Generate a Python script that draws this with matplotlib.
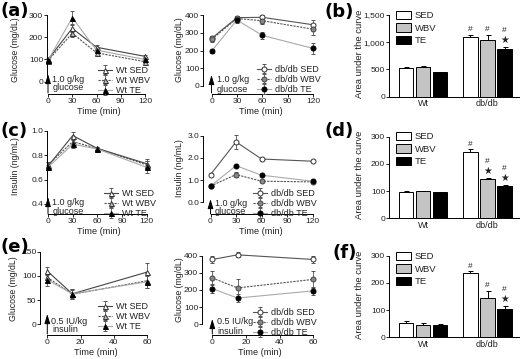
import matplotlib
matplotlib.use("Agg")
import matplotlib.pyplot as plt
import numpy as np

plt.rcParams['font.family'] = ['Liberation Sans', 'DejaVu Sans']
plt.rcParams['font.size'] = 6.0
plt.rcParams['axes.linewidth'] = 0.7
plt.rcParams['xtick.major.width'] = 0.7
plt.rcParams['ytick.major.width'] = 0.7
plt.rcParams['xtick.major.size'] = 2.0
plt.rcParams['ytick.major.size'] = 2.0
plt.rcParams['xtick.major.pad'] = 1.2
plt.rcParams['ytick.major.pad'] = 0.8
TXT = '#222222'
plt.rcParams['text.color'] = TXT
plt.rcParams['xtick.color'] = TXT
plt.rcParams['ytick.color'] = TXT
plt.rcParams['axes.labelcolor'] = TXT

# ---------------- data ----------------
ogtt_time = [0, 30, 60, 120]
itt_time = [0, 15, 60]
groups = ['SED', 'WBV', 'TE']
bar_cats = ['Wt', 'db/db']

# (a) glucose OGTT
a_wt_sed = [100, 240, 155, 114]
a_wt_wbv = [95, 218, 130, 90]
a_wt_te = [96, 288, 142, 100]
a_wt_sed_err = [6, 15, 8, 8]
a_wt_wbv_err = [6, 15, 8, 8]
a_wt_te_err = [6, 30, 10, 10]
a_db_sed = [268, 385, 387, 345]
a_db_wbv = [262, 380, 368, 320]
a_db_te = [196, 372, 285, 212]
a_db_sed_err = [15, 12, 15, 25]
a_db_wbv_err = [15, 12, 20, 30]
a_db_te_err = [10, 15, 18, 30]

# (b) AUC glucose
b_wt = [520, 540, 445]
b_wt_err = [18, 25, 12]
b_db = [1090, 1040, 870]
b_db_err = [50, 90, 40]

# (c) insulin OGTT
c_wt_sed = [0.71, 0.96, 0.855, 0.73]
c_wt_wbv = [0.72, 0.91, 0.855, 0.72]
c_wt_te = [0.70, 0.89, 0.85, 0.70]
c_wt_sed_err = [0.03, 0.03, 0.01, 0.04]
c_wt_wbv_err = [0.02, 0.03, 0.01, 0.03]
c_wt_te_err = [0.02, 0.03, 0.01, 0.05]
c_db_sed = [1.25, 2.72, 1.95, 1.85]
c_db_wbv = [0.73, 1.25, 0.95, 0.92]
c_db_te = [0.73, 1.65, 1.22, 0.95]
c_db_sed_err = [0.05, 0.3, 0.05, 0.05]
c_db_wbv_err = [0.05, 0.1, 0.05, 0.05]
c_db_te_err = [0.05, 0.05, 0.05, 0.05]

# (d) AUC insulin
d_wt = [98, 99, 97]
d_wt_err = [1, 1, 1]
d_db = [243, 143, 120]
d_db_err = [10, 5, 4]

# (e) glucose ITT
e_wt_sed = [110, 63, 108]
e_wt_wbv = [97, 62, 90]
e_wt_te = [92, 63, 88]
e_wt_sed_err = [8, 10, 18]
e_wt_wbv_err = [10, 8, 15]
e_wt_te_err = [12, 10, 12]
e_db_sed = [378, 405, 378]
e_db_wbv = [270, 212, 262]
e_db_te = [208, 153, 195]
e_db_sed_err = [20, 15, 20]
e_db_wbv_err = [40, 55, 50]
e_db_te_err = [25, 25, 25]

# (f) AUC ITT
f_wt = [52, 47, 46]
f_wt_err = [7, 5, 4]
f_db = [235, 143, 104]
f_db_err = [7, 28, 12]

sig_db = [['#'], ['#'], ['#', '★']]
sig_d = [['#'], ['#', '★'], ['#', '★']]

W, H = 520, 359
fig = plt.figure(figsize=(W / 100, H / 100), dpi=100)


def fx(px):
    return px / W


def fy(py):
    return 1 - py / H


def make_ax(box, xmap, ymap):
    left, right, top, bottom = box
    (px0, v0), (px1, v1) = xmap
    sx = (px1 - px0) / (v1 - v0)
    xlim = (v0 + (left - px0) / sx, v0 + (right - px0) / sx)
    (py0, w0), (py1, w1) = ymap
    sy = (py1 - py0) / (w1 - w0)
    ylim = (w0 + (bottom - py0) / sy, w0 + (top - py0) / sy)
    ax = fig.add_axes([left / W, 1 - bottom / H, (right - left) / W, (bottom - top) / H])
    ax.set_xlim(xlim)
    ax.set_ylim(ylim)
    ax.patch.set_alpha(0)
    for s in ['top', 'right']:
        ax.spines[s].set_visible(False)
    return ax


wt_styles = [
    dict(marker='^', mfc='white', mec='#333333', color='#444444', ls='-'),
    dict(marker='^', mfc='#bbbbbb', mec='#333333', color='#555555', ls=(0, (2, 1))),
    dict(marker='^', mfc='black', mec='black', color='#aaaaaa', ls='-'),
]
db_styles = [
    dict(marker='o', mfc='white', mec='#333333', color='#555555', ls='-'),
    dict(marker='o', mfc='#888888', mec='#444444', color='#555555', ls=(0, (2, 1))),
    dict(marker='o', mfc='black', mec='black', color='#aaaaaa', ls='-'),
]


def line_panel(ax, t, series, errs, styles, labels, xticks, yticks, yfmt,
               leg_px, arrow, txt):
    handles = []
    for y, e, st, lab in zip(series, errs, styles, labels):
        c = ax.errorbar(t, y, yerr=e, marker=st['marker'], ms=3.6, mfc=st['mfc'],
                        mec=st['mec'], mew=0.7, color=st['color'], ls=st['ls'],
                        lw=0.8, ecolor='#555555', elinewidth=0.6, capsize=1.3,
                        capthick=0.6, label=lab)
        for art in c.get_children():
            art.set_clip_on(False)
        handles.append(c)
    ax.set_xticks(xticks)
    ax.set_yticks(yticks)
    ax.set_yticklabels([yfmt.format(v) for v in yticks])
    ax.spines['left'].set_bounds(yticks[0], yticks[-1])
    ax.spines['bottom'].set_bounds(xticks[0], xticks[-1])
    ax.set_xlabel('Time (min)', fontsize=6.6, labelpad=1)
    lx, ly = leg_px
    ax.legend(handles=handles, loc='upper left', bbox_to_anchor=(fx(lx), fy(ly)),
              bbox_transform=fig.transFigure, frameon=False, fontsize=6.5,
              handlelength=1.6, handletextpad=0.35, labelspacing=0.12,
              borderpad=0, borderaxespad=0)
    ax_x, tail, tip = arrow
    ax.annotate('', xy=(ax_x, fy(tip)), xycoords=('data', 'figure fraction'),
                xytext=(ax_x, fy(tail)), textcoords=('data', 'figure fraction'),
                arrowprops=dict(arrowstyle='-|>,head_length=0.95,head_width=0.28',
                                color='black', lw=0.7, shrinkA=0, shrinkB=0),
                annotation_clip=False)
    (t1, x1, y1), (t2, x2, y2) = txt
    fig.text(fx(x1), fy(y1), t1, ha='left', va='center', fontsize=6.5)
    fig.text(fx(x2), fy(y2), t2, ha='left', va='center', fontsize=6.5)


def bar_panel(ax, wt, wt_err, db, db_err, ymax, yticks, labels_fmt, sig, leg_px):
    x = np.arange(len(bar_cats))
    colors = ['white', '#c4c4c4', 'black']
    w = 0.22
    offs = [-0.265, 0, 0.265]
    bars = []
    for i in range(3):
        vals = [wt[i], db[i]]
        errs = [wt_err[i], db_err[i]]
        b = ax.bar(x + offs[i], vals, width=w, color=colors[i], edgecolor='black',
                   linewidth=0.7, label=groups[i], zorder=2)
        ax.errorbar(x + offs[i], vals, yerr=[[0, 0], errs], fmt='none', ecolor='black',
                    elinewidth=0.7, capsize=1.8, capthick=0.7, zorder=1)
        bars.append(b)
        top = db[i] + db_err[i]
        marks = sig[i]
        if len(marks) == 1:
            ax.text(1 + offs[i], top + 0.065 * ymax, marks[0], ha='center', va='center',
                    fontsize=6)
        else:
            ax.text(1 + offs[i], top + 0.2 * ymax, marks[0], ha='center', va='center',
                    fontsize=6)
            ax.text(1 + offs[i], top + 0.085 * ymax, marks[1], ha='center', va='center',
                    fontsize=7, family=['DejaVu Sans'])
    ax.set_xticks(x)
    ax.set_xticklabels(bar_cats, fontsize=6.5)
    ax.tick_params(axis='x', length=0, pad=2)
    ax.set_yticks(yticks)
    ax.set_yticklabels([labels_fmt(v) for v in yticks])
    ax.spines['left'].set_bounds(0, ymax)
    lx, ly = leg_px
    ax.legend(handles=bars, loc='upper left', bbox_to_anchor=(fx(lx), fy(ly)),
              bbox_transform=fig.transFigure, frameon=False, fontsize=6.8,
              handlelength=1.6, handleheight=1.0, handletextpad=0.4, labelspacing=0.3,
              borderpad=0, borderaxespad=0)


wt_labels = ['Wt SED', 'Wt WBV', 'Wt TE']
db_labels = ['db/db SED', 'db/db WBV', 'db/db TE']
gk = ('1.0 g/kg', 'glucose')
iu = ('0.5 IU/kg', 'insulin')

# ---------- row 1 ----------
ax = make_ax((47, 150, 5, 94), ((48, 0), (145, 120)), ((81.7, 0), (15, 300)))
line_panel(ax, ogtt_time, [a_wt_sed, a_wt_wbv, a_wt_te],
           [a_wt_sed_err, a_wt_wbv_err, a_wt_te_err], wt_styles, wt_labels,
           [0, 30, 60, 90, 120], [0, 100, 200, 300], '{:d}', (98, 66),
           (0, 93, 74), ((gk[0], 52, 79), (gk[1], 53, 88)))

ax = make_ax((203, 318, 5, 94), ((211.5, 0), (313, 120)), ((86, 0), (15, 400)))
line_panel(ax, ogtt_time, [a_db_sed, a_db_wbv, a_db_te],
           [a_db_sed_err, a_db_wbv_err, a_db_te_err], db_styles, db_labels,
           [0, 30, 60, 90, 120], [0, 100, 200, 300, 400], '{:d}', (257, 65),
           (0, 93, 75), ((gk[0], 217, 80), (gk[1], 217, 89)))

ax = make_ax((389, 520, 5, 96.7), ((423, 0), (487.5, 1)), ((96.7, 0), (15, 1500)))
bar_panel(ax, b_wt, b_wt_err, b_db, b_db_err, 1500, [0, 500, 1000, 1500],
          lambda v: '{:,}'.format(v), sig_db, (396, 11))

# ---------- row 2 ----------
ax = make_ax((47, 150, 122, 214), ((48, 0), (146.7, 120)), ((204, 0.4), (130.7, 1.0)))
line_panel(ax, ogtt_time, [c_wt_sed, c_wt_wbv, c_wt_te],
           [c_wt_sed_err, c_wt_wbv_err, c_wt_te_err], wt_styles, wt_labels,
           [0, 30, 60, 90, 120], [0.4, 0.6, 0.8, 1.0], '{:.1f}', (104, 189),
           (0, 214, 197), ((gk[0], 52, 202), (gk[1], 53, 211)))

ax = make_ax((203, 318, 122, 214), ((210.5, 0), (312.7, 120)), ((202.3, 0), (135.7, 3.0)))
line_panel(ax, ogtt_time, [c_db_sed, c_db_wbv, c_db_te],
           [c_db_sed_err, c_db_wbv_err, c_db_te_err], db_styles, db_labels,
           [0, 30, 60, 90, 120], [0.0, 1.0, 2.0, 3.0], '{:.1f}', (253, 189),
           (0, 214, 199), ((gk[0], 215, 203), (gk[1], 215, 212)))

ax = make_ax((389, 520, 122, 218.3), ((423, 0), (487.5, 1)), ((218.3, 0), (136.7, 300)))
bar_panel(ax, d_wt, d_wt_err, d_db, d_db_err, 300, [0, 100, 200, 300],
          lambda v: '{:d}'.format(v), sig_d, (396, 132))

# ---------- row 3 ----------
ax = make_ax((40, 152, 240, 335), ((47.3, 0), (147.3, 60)), ((324.3, 0), (251.7, 150)))
line_panel(ax, itt_time, [e_wt_sed, e_wt_wbv, e_wt_te],
           [e_wt_sed_err, e_wt_wbv_err, e_wt_te_err], wt_styles, wt_labels,
           [0, 20, 40, 60], [0, 50, 100, 150], '{:d}', (98, 302),
           (0, 334, 314), ((iu[0], 51, 321), (iu[1], 52, 330)))

ax = make_ax((202, 318, 240, 335), ((212.3, 0), (313.3, 60)), ((324.3, 0), (255.7, 400)))
line_panel(ax, itt_time, [e_db_sed, e_db_wbv, e_db_te],
           [e_db_sed_err, e_db_wbv_err, e_db_te_err], db_styles, db_labels,
           [0, 20, 40, 60], [0, 100, 200, 300, 400], '{:d}', (253, 308),
           (0, 334, 319), ((iu[0], 217, 322), (iu[1], 217, 331)))

ax = make_ax((389, 520, 240, 337.3), ((423, 0), (487.5, 1)), ((337.3, 0), (255.7, 300)))
bar_panel(ax, f_wt, f_wt_err, f_db, f_db_err, 300, [0, 100, 200, 300],
          lambda v: '{:d}'.format(v), sig_db, (396, 252))

# ---------- y labels ----------
ylabels = [('Glucose (mg/dL)', 15, 50, 6.3), ('Glucose (mg/dL)', 180, 50, 6.3),
           ('Area under the curve', 359, 54, 6.8),
           ('Insulin (ng/mL)', 15, 166, 6.3), ('Insulin (ng/mL)', 180, 168, 6.3),
           ('Area under the curve', 359, 175, 6.8),
           ('Glucose (mg/dL)', 14, 289, 6.3), ('Glucose (mg/dL)', 180, 290, 6.3),
           ('Area under the curve', 359, 295, 6.8)]
for t, x, y, fs in ylabels:
    fig.text(fx(x), fy(y), t, rotation=90, ha='center', va='center', fontsize=fs)

# ---------- panel letters ----------
letters = [('(a)', 0, 11), ('(b)', 325, 12), ('(c)', 0, 131), ('(d)', 324, 131),
           ('(e)', 0, 247), ('(f)', 332, 253)]
for t, x, y in letters:
    fig.text(fx(x), fy(y), t, ha='left', va='center', fontsize=13, fontweight='bold',
             color='black', family=['DejaVu Sans'])

fig.savefig('out.png', dpi=100)
